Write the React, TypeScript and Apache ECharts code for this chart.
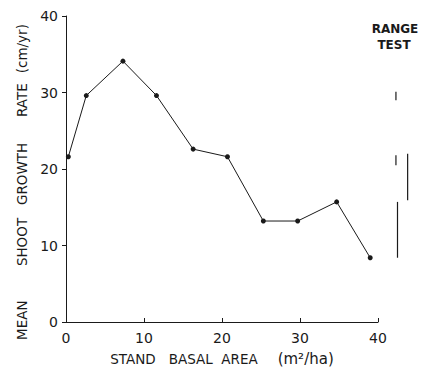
import React, { useEffect, useRef } from "react";
import * as echarts from "echarts";

const basalArea = [0.3, 2.6, 7.3, 11.6, 16.3, 20.7, 25.3, 29.7, 34.7, 39.0];
const growthRate = [21.6, 29.6, 34.1, 29.6, 22.6, 21.6, 13.2, 13.2, 15.7, 8.4];

// Range test bars (x position beyond axis, low, high)
const rangeX = [42.3, 42.3, 43.8, 42.5];
const rangeLow = [29.0, 20.5, 15.9, 8.4];
const rangeHigh = [30.1, 21.8, 22.0, 15.7];

const xTicks = [0, 10, 20, 30, 40];
const yTicks = [0, 10, 20, 30, 40];

const INK = "#1a1a1a";
const FONT = "DejaVu Sans";

export default function App() {
  const ref = useRef<HTMLDivElement>(null);
  useEffect(() => {
    if (!ref.current) return;
    const chart = echarts.init(ref.current, undefined, { renderer: "svg" });
    chart.setOption({
      animation: false,
      backgroundColor: "#ffffff",
      grid: {
        left: 66,
        top: 16,
        right: 43,
        bottom: 45,
        containLabel: false,
        outerBoundsMode: "none",
      },
      xAxis: {
        type: "value",
        min: xTicks[0],
        max: xTicks[xTicks.length - 1],
        interval: 10,
        splitLine: { show: false },
        axisLine: { lineStyle: { color: INK, width: 1 } },
        axisTick: { inside: true, length: 4, lineStyle: { color: INK } },
        axisLabel: { color: INK, fontSize: 14, fontFamily: FONT, margin: 9 },
        name: "{a|STAND   BASAL  AREA}      {b|(m²/ha)}",
        nameLocation: "middle",
        nameGap: 29,
        nameTextStyle: {
          rich: {
            a: { fontSize: 13.5, fontFamily: FONT, color: INK },
            b: { fontSize: 15, fontFamily: FONT, color: INK },
          },
        },
      },
      yAxis: {
        type: "value",
        min: yTicks[0],
        max: yTicks[yTicks.length - 1],
        interval: 10,
        splitLine: { show: false },
        axisLine: { show: true, lineStyle: { color: INK, width: 1 } },
        axisTick: { show: true, inside: false, length: 4, lineStyle: { color: INK } },
        axisLabel: { color: INK, fontSize: 14, fontFamily: FONT, margin: 8 },
        name: "{a|MEAN        SHOOT   GROWTH      RATE}   {b|(cm/yr)}",
        nameLocation: "middle",
        nameGap: 37,
        nameTextStyle: {
          padding: [0, 26, 0, 0],
          rich: {
            a: { fontSize: 13.5, fontFamily: FONT, color: INK },
            b: { fontSize: 13.5, fontFamily: FONT, color: INK },
          },
        },
      },
      graphic: [
        {
          type: "text",
          x: 395,
          y: 29,
          style: {
            text: "RANGE",
            fontSize: 12,
            fontWeight: "bold",
            fontFamily: FONT,
            fill: INK,
            align: "center",
            verticalAlign: "middle",
          },
        },
        {
          type: "text",
          x: 394,
          y: 45,
          style: {
            text: "TEST",
            fontSize: 12,
            fontWeight: "bold",
            fontFamily: FONT,
            fill: INK,
            align: "center",
            verticalAlign: "middle",
          },
        },
      ],
      series: [
        {
          type: "line",
          data: basalArea.map((x, i) => [x, growthRate[i]]),
          symbol: "circle",
          symbolSize: 5,
          itemStyle: { color: INK },
          lineStyle: { color: INK, width: 1 },
          clip: false,
        },
        {
          type: "custom",
          clip: false,
          data: rangeX.map((x, i) => [x, rangeLow[i], rangeHigh[i]]),
          renderItem: (params: any, api: any) => {
            const p1 = api.coord([api.value(0), api.value(1)]);
            const p2 = api.coord([api.value(0), api.value(2)]);
            return {
              type: "line",
              shape: { x1: p1[0], y1: p1[1], x2: p2[0], y2: p2[1] },
              style: { stroke: INK, lineWidth: 1.2 },
            };
          },
        },
      ],
    });
    return () => chart.dispose();
  }, []);
  return (
    <div
      ref={ref}
      style={{ position: "fixed", left: 0, top: 0, width: 421, height: 367 }}
    />
  );
}
